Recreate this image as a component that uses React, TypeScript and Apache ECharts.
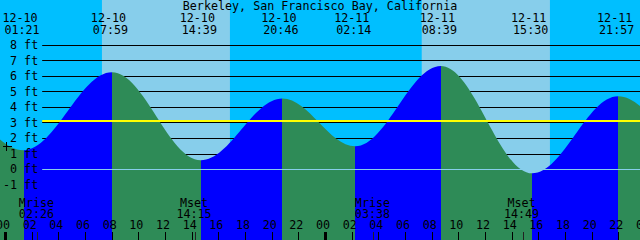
import React, { useEffect, useRef } from 'react';
import * as echarts from 'echarts';

// ---- data ----
const title = 'Berkeley, San Francisco Bay, California';

// tide extremes (high / low), including one pair just outside the visible window on each side
const tideDates = ['12-09', '12-09', '12-10', '12-10', '12-10', '12-10', '12-11', '12-11', '12-11', '12-11', '12-12', '12-12'];
const tideTimes = ['13:50', '19:45', '01:21', '07:59', '14:39', '20:46', '02:14', '08:39', '15:30', '21:57', '03:05', '09:20'];
const tideHeights = [1.4, 4.3, 1.23, 6.24, 0.58, 4.55, 1.48, 6.65, -0.26, 4.7, 2.0, 7.0];
const labelledEvents = [2, 3, 4, 5, 6, 7, 8, 9];

// daylight
const dayStartDates = ['12-10', '12-11'];
const dayStartTimes = ['07:14', '07:13'];
const dayEndDates = ['12-10', '12-11'];
const dayEndTimes = ['16:50', '16:50'];

// moon
const moonNames = ['Mrise', 'Mset', 'Mrise', 'Mset'];
const moonDates = ['12-10', '12-10', '12-11', '12-11'];
const moonTimes = ['02:26', '14:15', '03:38', '14:49'];

// bottom hour ticks (hours from 12-10 00:00)
const tickHours = [0, 2, 4, 6, 8, 10, 12, 14, 16, 18, 20, 22, 24, 26, 28, 30, 32, 34, 36, 38, 40, 42, 44, 46, 48];

// levels (ft)
const levelTicksMin = -1;
const levelTicksMax = 8;
const mslLevel = 3.14;
const datumLevel = 0;

// ---- helpers ----
const FONT = '"DejaVu Sans Mono", "Liberation Mono", monospace';
const FS = 11.7;
const LH = 10;
const RISE = '#0000FF';
const FALL = '#2E8B57';
const NIGHT = '#00BFFF';
const DAY = '#87CEEB';

function toHour(date: string, time: string) {
  const day = parseInt(date.split('-')[1], 10);
  const [hh, mm] = time.split(':').map((s) => parseInt(s, 10));
  return (day - 10) * 24 + hh + mm / 60;
}

function txt(text: string, x: number, y: number) {
  return {
    type: 'text',
    x,
    y,
    style: {
      text,
      fill: '#000',
      fontSize: FS,
      fontFamily: FONT,
      lineHeight: LH,
      align: 'center',
      verticalAlign: 'middle',
    },
  };
}

const X_MIN = -0.4125;
const X_MAX = 47.5875;
const Y_MIN = -4.55;
const Y_MAX = 10.894;

export default function App() {
  const ref = useRef<HTMLDivElement>(null);

  useEffect(() => {
    if (!ref.current) return;
    const chart = echarts.init(ref.current, undefined, { renderer: 'svg' });

    const tideHours = tideDates.map((d, i) => toHour(d, tideTimes[i]));
    const tideData = tideHours.map((h, i) => [h, tideHeights[i]]);

    const pieces: any[] = [];
    const n = tideHours.length;
    const segColor = (i: number) => (tideHeights[i + 1] > tideHeights[i] ? RISE : FALL);
    pieces.push({ lt: tideHours[0], color: segColor(0) === RISE ? FALL : RISE });
    for (let i = 0; i < n - 1; i++) {
      pieces.push({ gte: tideHours[i], lt: tideHours[i + 1], color: segColor(i) });
    }
    pieces.push({ gte: tideHours[n - 1], color: segColor(n - 2) === RISE ? FALL : RISE });

    const dayData = dayStartDates.map((d, i) => [toHour(d, dayStartTimes[i]), toHour(dayEndDates[i], dayEndTimes[i])]);
    const eventData = labelledEvents.map((i) => [tideHours[i], i]);
    const moonData = moonDates.map((d, i) => [toHour(d, moonTimes[i]), i]);
    const tickData = tickHours.map((h) => [h, 0]);

    const option: any = {
      animation: false,
      backgroundColor: NIGHT,
      grid: [
        { left: 0, right: 0, top: 0, bottom: 0 },
        { left: 39, right: 0, top: 45, bottom: 55.16 },
      ],
      xAxis: [
        { type: 'value', gridIndex: 0, min: X_MIN, max: X_MAX, show: false },
        { type: 'value', gridIndex: 1, min: 0, max: 1, show: false },
      ],
      yAxis: [
        { type: 'value', gridIndex: 0, min: Y_MIN, max: Y_MAX, show: false },
        {
          type: 'value',
          gridIndex: 1,
          position: 'right',
          min: levelTicksMin,
          max: levelTicksMax,
          interval: 1,
          z: 1,
          axisLine: { show: false },
          axisTick: { show: false },
          axisLabel: { show: false },
          splitLine: { show: true, lineStyle: { color: '#000', width: 1 } },
        },
        {
          type: 'value',
          gridIndex: 1,
          position: 'left',
          min: levelTicksMin,
          max: levelTicksMax,
          interval: 1,
          z: 10,
          axisLine: { show: false },
          axisTick: { show: false },
          splitLine: { show: false },
          axisLabel: {
            show: true,
            margin: 4,
            formatter: '{value} ft',
            color: '#000',
            fontSize: FS,
            lineHeight: LH,
            fontFamily: FONT,
          },
        },
      ],
      visualMap: {
        type: 'piecewise',
        show: false,
        dimension: 0,
        seriesIndex: 1,
        pieces,
      },
      graphic: [
        {
          type: 'text',
          x: 320,
          y: 6,
          z: 20,
          style: {
            text: title,
            fill: '#000',
            fontSize: FS,
            fontFamily: FONT,
            lineHeight: LH,
            align: 'center',
            verticalAlign: 'middle',
          },
        },
        { type: 'line', z: 20, shape: { x1: 3, y1: 146.5, x2: 12, y2: 146.5 }, style: { stroke: '#000', lineWidth: 1 } },
        { type: 'line', z: 20, shape: { x1: 6.5, y1: 142, x2: 6.5, y2: 151 }, style: { stroke: '#000', lineWidth: 1 } },
      ],
      series: [
        {
          type: 'custom',
          xAxisIndex: 0,
          yAxisIndex: 0,
          z: 0,
          silent: true,
          data: dayData,
          renderItem: (params: any, api: any) => {
            const s = api.coord([api.value(0), Y_MAX]);
            const e = api.coord([api.value(1), Y_MIN]);
            return {
              type: 'rect',
              shape: { x: s[0], y: s[1], width: e[0] - s[0], height: e[1] - s[1] },
              style: { fill: DAY },
            };
          },
        },
        {
          type: 'line',
          xAxisIndex: 0,
          yAxisIndex: 0,
          z: 2,
          silent: true,
          data: tideData,
          smooth: 0.3634,
          smoothMonotone: 'x',
          showSymbol: false,
          symbol: 'none',
          lineStyle: { width: 0 },
          areaStyle: { opacity: 1, origin: 'start' },
        },
        {
          type: 'line',
          xAxisIndex: 1,
          yAxisIndex: 1,
          silent: true,
          data: [],
          markLine: {
            silent: true,
            symbol: 'none',
            label: { show: false },
            data: [
              { yAxis: datumLevel, lineStyle: { color: DAY, width: 1, type: 'solid' } },
              { yAxis: mslLevel, lineStyle: { color: '#FFFF00', width: 2, type: 'solid' } },
            ],
          },
        },
        {
          type: 'custom',
          xAxisIndex: 0,
          yAxisIndex: 0,
          z: 10,
          silent: true,
          clip: false,
          data: eventData,
          renderItem: (params: any, api: any) => {
            const idx = api.value(1);
            const x = api.coord([api.value(0), 0])[0];
            return {
              type: 'group',
              children: [txt(tideDates[idx], x - 3.5, 17.5), txt(tideTimes[idx], x - 1.5, 29.7)],
            };
          },
        },
        {
          type: 'custom',
          xAxisIndex: 0,
          yAxisIndex: 0,
          z: 10,
          silent: true,
          clip: false,
          data: tickData,
          renderItem: (params: any, api: any) => {
            const h = api.value(0);
            const px = api.coord([h, 0])[0];
            const mid = h % 24 === 0;
            const label = String(h % 24).padStart(2, '0');
            return {
              type: 'group',
              children: [
                {
                  type: 'rect',
                  shape: { x: Math.floor(px) - (mid ? 1 : 0), y: 232, width: mid ? 3 : 1, height: 8 },
                  style: { fill: '#000' },
                },
                txt(label, px - 2.5, 225),
              ],
            };
          },
        },
        {
          type: 'custom',
          xAxisIndex: 0,
          yAxisIndex: 0,
          z: 10,
          silent: true,
          clip: false,
          data: moonData,
          renderItem: (params: any, api: any) => {
            const idx = api.value(1);
            const px = api.coord([api.value(0), 0])[0];
            return {
              type: 'group',
              children: [
                { type: 'rect', shape: { x: Math.floor(px), y: 232, width: 1, height: 8 }, style: { fill: '#222' } },
                txt(moonNames[idx], px - 1.5, 202.5),
                txt(moonTimes[idx], px - 1.5, 213.5),
              ],
            };
          },
        },
      ],
    };

    chart.setOption(option);
    return () => chart.dispose();
  }, []);

  return <div ref={ref} style={{ position: 'fixed', left: 0, top: 0, width: 640, height: 240 }} />;
}
